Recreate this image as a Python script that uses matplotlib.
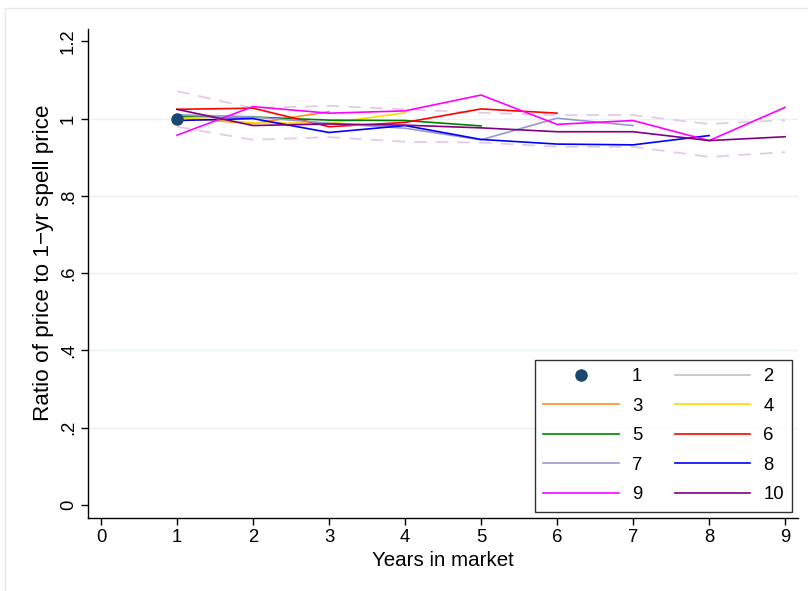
import matplotlib
matplotlib.use("Agg")
import matplotlib.pyplot as plt
from matplotlib.lines import Line2D
from matplotlib.patches import Rectangle

plt.rcParams['font.family'] = ['Liberation Sans', 'DejaVu Sans']

# ---- data ----
years = [1, 2, 3, 4, 5, 6, 7, 8, 9]
s1 = [1.000]
s2 = [1.010, 1.005]
s3 = [1.002, 0.987, 1.018]
s4 = [1.003, 0.989, 0.988, 1.015]
s5 = [1.006, 1.004, 0.996, 0.995, 0.981]
s6 = [1.024, 1.027, 0.979, 0.990, 1.025, 1.014]
s7 = [1.009, 1.004, 0.988, 0.975, 0.945, 1.001, 0.982]
s8 = [0.995, 1.000, 0.964, 0.982, 0.946, 0.934, 0.932, 0.956]
s9 = [0.957, 1.031, 1.014, 1.020, 1.061, 0.985, 0.995, 0.943, 1.029]
s10 = [1.024, 0.982, 0.986, 0.983, 0.976, 0.966, 0.966, 0.943, 0.953]
upper = [1.071, 1.027, 1.033, 1.024, 1.015, 1.009, 1.009, 0.986, 0.996]
lower = [0.979, 0.945, 0.952, 0.940, 0.938, 0.927, 0.927, 0.901, 0.913]

labels = ['1', '2', '3', '4', '5', '6', '7', '8', '9', '10']
colors = ['#1a476f', '#c0c0c0', '#ff8c1a', '#ffd700', '#008000',
          '#ff0000', '#9a96d4', '#0000ff', '#ff00ff', '#800080']
band_color = '#e2cbe8'

yticks = [0, 0.2, 0.4, 0.6, 0.8, 1.0, 1.2]
yticklabels = ['0', '.2', '.4', '.6', '.8', '1', '1.2']
xticks = list(range(10))

TICK_FS = 13.3
TITLE_FS = 14.8
YTITLE_FS = 16.2

fig = plt.figure(figsize=(8.08, 5.91), dpi=100)
# faint outer frame
fig.patches.append(Rectangle((5/808, -0.1), 1.2, 1 - 8/591 + 0.1,
                             transform=fig.transFigure, fill=False,
                             edgecolor='#e3e8ea', linewidth=1.0))
ax = fig.add_axes([88/808, 1 - 517.5/591, 710/808, (517.5 - 29)/591])

for g in [0.2, 0.4, 0.6, 0.8, 1.0]:
    ax.axhline(g, color='#eaf2f3', linewidth=1.0, zorder=0)

ax.plot(years, upper, color=band_color, linestyle=(0, (7, 5)), linewidth=1.3, zorder=1)
ax.plot(years, lower, color=band_color, linestyle=(0, (7, 5)), linewidth=1.3, zorder=1)

series = [s1, s2, s3, s4, s5, s6, s7, s8, s9, s10]
handles = []
for i, s in enumerate(series):
    xs = years[:len(s)]
    if i == 0:
        ax.plot(xs, s, 'o', color=colors[0], markersize=8, zorder=5)
        handles.append(Line2D([], [], marker='o', linestyle='none',
                              color=colors[0], markersize=8))
    else:
        ax.plot(xs, s, color=colors[i], linewidth=1.2, zorder=2 + i * 0.1)
        handles.append(Line2D([], [], color=colors[i], linewidth=1.2))

ax.set_xlim(-0.171, 9.17)
ax.set_ylim(-0.033, 1.232)
ax.set_yticks(yticks)
ax.set_yticklabels(yticklabels, rotation=90, va='center')
ax.set_xticks(xticks)
ax.tick_params(axis='both', labelsize=TICK_FS, length=5, width=1, color='black')
ax.tick_params(axis='y', pad=3)
ax.tick_params(axis='x', pad=3)
for sp in ['top', 'right']:
    ax.spines[sp].set_visible(False)
for sp in ['left', 'bottom']:
    ax.spines[sp].set_linewidth(1)
ax.set_xlabel('Years in market', fontsize=TITLE_FS, labelpad=4)
ax.set_ylabel('Ratio of price to 1\u2212yr spell price', fontsize=YTITLE_FS, labelpad=4)
ax.yaxis.label.set_y(0.522)

order = [0, 2, 4, 6, 8, 1, 3, 5, 7, 9]
leg = ax.legend([handles[i] for i in order], [labels[i] for i in order],
                ncol=2, loc='lower right', bbox_to_anchor=(0.992, 0.012),
                fontsize=TICK_FS, frameon=True, fancybox=False, edgecolor='black',
                handlelength=4.1, handletextpad=0.7, columnspacing=1.75,
                labelspacing=0.68, borderpad=0.45, borderaxespad=0)
leg.get_frame().set_linewidth(1.0)

fig.savefig('out.png', dpi=100)
